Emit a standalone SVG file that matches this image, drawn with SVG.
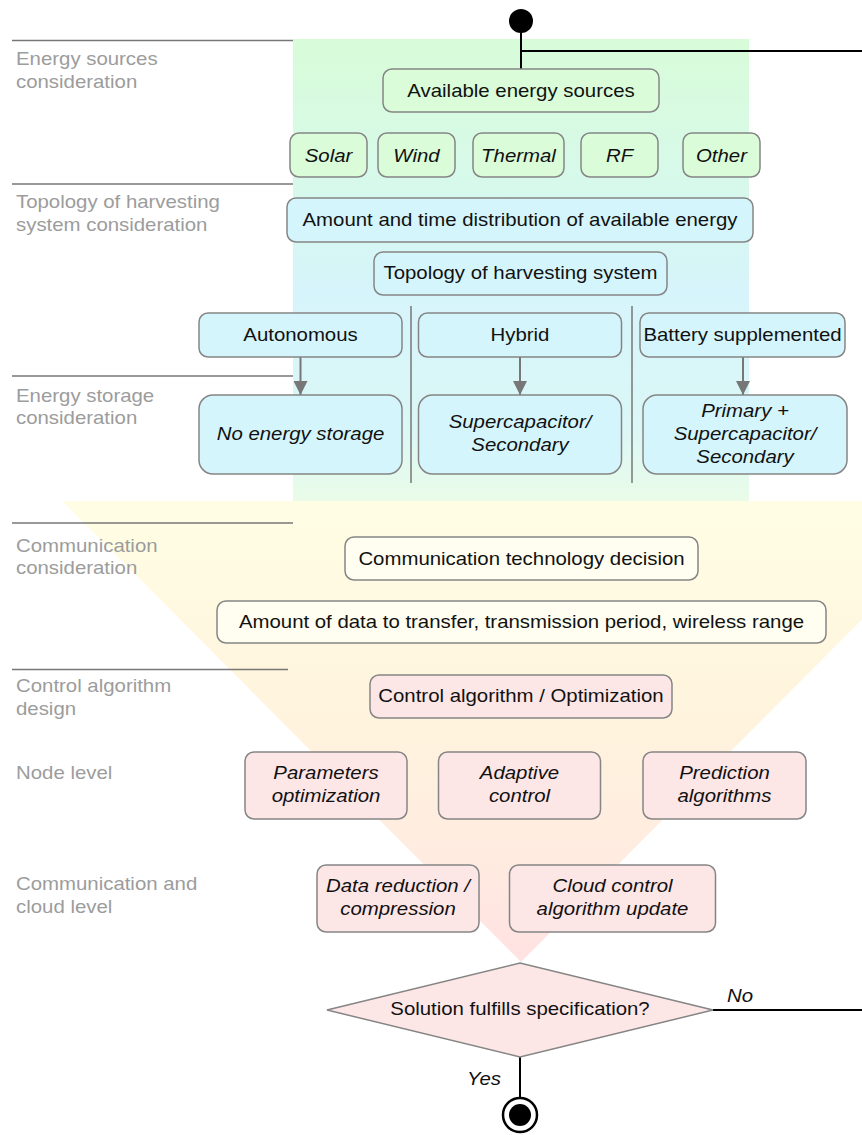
<svg xmlns="http://www.w3.org/2000/svg" width="862" height="1135" viewBox="0 0 862 1135">
<defs>
<linearGradient id="gTop" x1="0" y1="0" x2="0" y2="1">
<stop offset="0" stop-color="#d8fcd8"/>
<stop offset="0.3" stop-color="#d7f9ea"/>
<stop offset="0.55" stop-color="#d6f4fb"/>
<stop offset="0.85" stop-color="#dbf7f6"/>
<stop offset="1" stop-color="#eafce8"/>
</linearGradient>
<linearGradient id="gFun" gradientUnits="userSpaceOnUse" x1="0" y1="501" x2="0" y2="962">
<stop offset="0" stop-color="#fffee4"/>
<stop offset="0.45" stop-color="#fff4dd"/>
<stop offset="0.75" stop-color="#ffece0"/>
<stop offset="1" stop-color="#ffe2e2"/>
</linearGradient>
<marker id="ah" viewBox="0 0 14 14" refX="14" refY="7" markerWidth="14" markerHeight="14" markerUnits="userSpaceOnUse" orient="auto">
<path d="M0,0 L14,7 L0,14 Z" fill="#777"/>
</marker>
<style>
.t{font-family:"Liberation Sans",Arial,Helvetica,sans-serif;font-size:18px;fill:#111;text-anchor:middle}
.i{font-style:italic}
.lbl{font-family:"Liberation Sans",Arial,Helvetica,sans-serif;font-size:18px;fill:#9c9c9c;text-anchor:start}
.bx{stroke:#858585;stroke-width:1.5}
.g{fill:#dafcd8}
.b{fill:#d5f5fc}
.y{fill:#fffef0}
.p{fill:#fde6e6}
.sep{stroke:#777;stroke-width:1.5;fill:none}
.ln{stroke:#000;stroke-width:2;fill:none}
.ar{stroke:#777;stroke-width:2;fill:none}
</style>
</defs>

<g id="background">
<polygon points="62,501 980,501 521,962" fill="url(#gFun)"/>
<rect x="293" y="39" width="456" height="462" fill="url(#gTop)"/>
</g>

<g id="phase-labels">
<line class="sep" x1="12" y1="40.5" x2="293" y2="40.5"/>
<text class="lbl" transform="translate(16,65) scale(1.133,1)">Energy sources</text>
<text class="lbl" transform="translate(16,88) scale(1.133,1)">consideration</text>
<line class="sep" x1="12" y1="184" x2="293" y2="184"/>
<text class="lbl" transform="translate(16,208) scale(1.133,1)">Topology of harvesting</text>
<text class="lbl" transform="translate(16,231) scale(1.133,1)">system consideration</text>
<line class="sep" x1="12" y1="376" x2="293" y2="376"/>
<text class="lbl" transform="translate(16,402) scale(1.133,1)">Energy storage</text>
<text class="lbl" transform="translate(16,424) scale(1.133,1)">consideration</text>
<line class="sep" x1="12" y1="523" x2="293" y2="523"/>
<text class="lbl" transform="translate(16,552) scale(1.133,1)">Communication</text>
<text class="lbl" transform="translate(16,574) scale(1.133,1)">consideration</text>
<line class="sep" x1="12" y1="669.5" x2="288" y2="669.5"/>
<text class="lbl" transform="translate(16,692) scale(1.133,1)">Control algorithm</text>
<text class="lbl" transform="translate(16,715) scale(1.133,1)">design</text>
<text class="lbl" transform="translate(16,779) scale(1.133,1)">Node level</text>
<text class="lbl" transform="translate(16,890) scale(1.133,1)">Communication and</text>
<text class="lbl" transform="translate(16,913) scale(1.133,1)">cloud level</text>
</g>

<g id="connectors">
<line class="ln" x1="521" y1="30" x2="521" y2="69"/>
<line class="ln" x1="521" y1="51" x2="862" y2="51"/>
<line class="sep" x1="411" y1="306" x2="411" y2="483"/>
<line class="sep" x1="632" y1="306" x2="632" y2="483"/>
<line class="ar" x1="300.5" y1="357" x2="300.5" y2="395" marker-end="url(#ah)"/>
<line class="ar" x1="520" y1="357" x2="520" y2="395" marker-end="url(#ah)"/>
<line class="ar" x1="743" y1="357" x2="743" y2="395" marker-end="url(#ah)"/>
<line class="ln" x1="713" y1="1010" x2="862" y2="1010"/>
<line class="ln" x1="520" y1="1057" x2="520" y2="1098"/>
<text class="t i" transform="translate(740,1002) scale(1.133,1)">No</text>
<text class="t i" transform="translate(484,1085) scale(1.133,1)">Yes</text>
</g>

<g id="start">
<circle cx="521" cy="21" r="12" fill="#000"/>
</g>

<g id="available-sources">
<rect class="bx g" x="383" y="69" width="276" height="43" rx="9"/>
<text class="t" transform="translate(521,97) scale(1.133,1)">Available energy sources</text>
</g>
<g id="solar">
<rect class="bx g" x="290" y="133" width="77" height="44" rx="9"/>
<text class="t i" transform="translate(328.5,162) scale(1.133,1)">Solar</text>
</g>
<g id="wind">
<rect class="bx g" x="378" y="133" width="77" height="44" rx="9"/>
<text class="t i" transform="translate(416.5,162) scale(1.133,1)">Wind</text>
</g>
<g id="thermal">
<rect class="bx g" x="473" y="133" width="91" height="44" rx="9"/>
<text class="t i" transform="translate(518.5,162) scale(1.133,1)">Thermal</text>
</g>
<g id="rf">
<rect class="bx g" x="581" y="133" width="77" height="44" rx="9"/>
<text class="t i" transform="translate(619.5,162) scale(1.133,1)">RF</text>
</g>
<g id="other">
<rect class="bx g" x="683" y="133" width="77" height="44" rx="9"/>
<text class="t i" transform="translate(721.5,162) scale(1.133,1)">Other</text>
</g>

<g id="amount-time">
<rect class="bx b" x="287" y="198" width="466" height="44" rx="9"/>
<text class="t" transform="translate(520,226) scale(1.133,1)">Amount and time distribution of available energy</text>
</g>
<g id="topology">
<rect class="bx b" x="374" y="252" width="293" height="43" rx="9"/>
<text class="t" transform="translate(520.5,279) scale(1.133,1)">Topology of harvesting system</text>
</g>
<g id="autonomous">
<rect class="bx b" x="199" y="313" width="203" height="44" rx="9"/>
<text class="t" transform="translate(300.5,341) scale(1.133,1)">Autonomous</text>
</g>
<g id="hybrid">
<rect class="bx b" x="418.5" y="313" width="203" height="44" rx="9"/>
<text class="t" transform="translate(520,341) scale(1.133,1)">Hybrid</text>
</g>
<g id="battery">
<rect class="bx b" x="640" y="313" width="205" height="44" rx="9"/>
<text class="t" transform="translate(742.5,341) scale(1.133,1)">Battery supplemented</text>
</g>
<g id="no-storage">
<rect class="bx b" x="199" y="395" width="203" height="79" rx="14"/>
<text class="t i" transform="translate(300.5,440) scale(1.133,1)">No energy storage</text>
</g>
<g id="supercap">
<rect class="bx b" x="418.5" y="395" width="203" height="79" rx="14"/>
<text class="t i" transform="translate(520,428) scale(1.133,1)"><tspan x="0" y="0">Supercapacitor/</tspan><tspan x="0" y="23">Secondary</tspan></text>
</g>
<g id="primary">
<rect class="bx b" x="643" y="395" width="204" height="79" rx="14"/>
<text class="t i" transform="translate(745,417) scale(1.133,1)"><tspan x="0" y="0">Primary +</tspan><tspan x="0" y="23">Supercapacitor/</tspan><tspan x="0" y="46">Secondary</tspan></text>
</g>

<g id="comm-decision">
<rect class="bx y" x="345" y="537" width="353" height="43" rx="9"/>
<text class="t" transform="translate(521.5,565) scale(1.133,1)">Communication technology decision</text>
</g>
<g id="data-amount">
<rect class="bx y" x="217" y="601" width="609" height="42" rx="9"/>
<text class="t" transform="translate(521.5,628) scale(1.133,1)">Amount of data to transfer, transmission period, wireless range</text>
</g>

<g id="control">
<rect class="bx p" x="370" y="675" width="302" height="43" rx="9"/>
<text class="t" transform="translate(521,702) scale(1.133,1)">Control algorithm / Optimization</text>
</g>
<g id="params">
<rect class="bx p" x="245" y="752" width="162" height="67" rx="9"/>
<text class="t i" transform="translate(326,779) scale(1.133,1)"><tspan x="0" y="0">Parameters</tspan><tspan x="0" y="23">optimization</tspan></text>
</g>
<g id="adaptive">
<rect class="bx p" x="438.5" y="752" width="162" height="67" rx="9"/>
<text class="t i" transform="translate(519.5,779) scale(1.133,1)"><tspan x="0" y="0">Adaptive</tspan><tspan x="0" y="23">control</tspan></text>
</g>
<g id="prediction">
<rect class="bx p" x="643" y="752" width="163" height="67" rx="9"/>
<text class="t i" transform="translate(724.5,779) scale(1.133,1)"><tspan x="0" y="0">Prediction</tspan><tspan x="0" y="23">algorithms</tspan></text>
</g>
<g id="data-reduction">
<rect class="bx p" x="317" y="865" width="162" height="67" rx="9"/>
<text class="t i" transform="translate(398,892) scale(1.133,1)"><tspan x="0" y="0">Data reduction /</tspan><tspan x="0" y="23">compression</tspan></text>
</g>
<g id="cloud">
<rect class="bx p" x="509.5" y="865" width="206" height="67" rx="9"/>
<text class="t i" transform="translate(612.5,892) scale(1.133,1)"><tspan x="0" y="0">Cloud control</tspan><tspan x="0" y="23">algorithm update</tspan></text>
</g>

<g id="decision">
<polygon class="bx p" points="327,1010 520,963 713,1010 520,1057"/>
<text class="t" transform="translate(520,1015) scale(1.133,1)">Solution fulfills specification?</text>
</g>

<g id="end">
<circle cx="520" cy="1115" r="17" fill="#fff" stroke="#000" stroke-width="2.5"/>
<circle cx="520" cy="1115" r="11" fill="#000"/>
</g>
</svg>
